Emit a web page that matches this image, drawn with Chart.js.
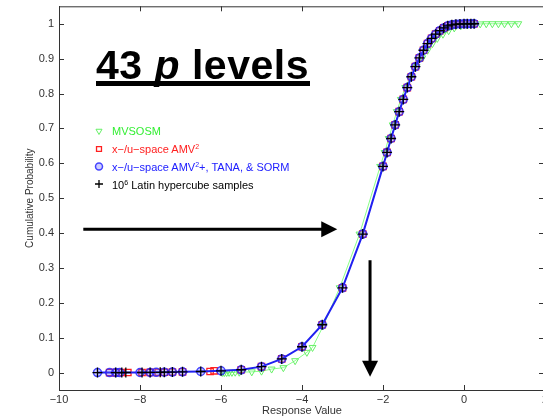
<!DOCTYPE html>
<html>
<head>
<meta charset="utf-8">
<script src="https://cdn.jsdelivr.net/npm/chart.js@4.4.1/dist/chart.umd.min.js"></script>
<style>
  html, body { margin: 0; padding: 0; overflow: hidden; background: #fff; }
  #wrap { position: relative; width: 560px; height: 420px; }
  #chart { position: absolute; left: 0; top: 0; }
  .big-title {
    position: absolute; left: 96px; top: 45px;
    font: bold 41px 'Liberation Sans', Arial, sans-serif; line-height: 41px;
    letter-spacing: 0.5px; white-space: nowrap; color: #000;
  }
  .big-title-line { position: absolute; left: 96px; top: 81px; width: 214px; height: 5px; background: #000; }
  .leg { position: absolute; left: 112px; font: 11px 'Liberation Sans', Arial, sans-serif; line-height: 12px; white-space: nowrap; }
  .leg sup { font-size: 7px; vertical-align: 4px; line-height: 0; }
</style>
</head>
<body>
<div id="wrap">
  <canvas id="chart" width="560" height="420"></canvas>
  <div class="big-title">43 <i>p</i> levels</div>
  <div class="big-title-line"></div>
  <div class="leg" style="top:125px;color:#33ee33">MVSOSM</div>
  <div class="leg" style="top:143px;color:#ff2020">x−/u−space AMV<sup>2</sup></div>
  <div class="leg" style="top:160.5px;color:#2020ff">x−/u−space AMV<sup>2</sup>+, TANA, &amp; SORM</div>
  <div class="leg" style="top:178.5px;color:#000">10<sup>6</sup> Latin hypercube samples</div>
</div>
<script>
// Tick labels
const xTicks = [-10, -8, -6, -4, -2, 0, 2];
const yTicks = [0, 0.1, 0.2, 0.3, 0.4, 0.5, 0.6, 0.7, 0.8, 0.9, 1];

// The 43 probability levels (shared by AMV2, AMV2+/TANA/SORM and LHS)
const pLevels = [
  0.000001, 0.00001, 0.00005, 0.0001, 0.0002, 0.0004, 0.0007, 0.001, 0.0015, 0.002, 0.003, 0.005,
  0.008, 0.017, 0.039, 0.074, 0.137, 0.243, 0.397, 0.591,
  0.631, 0.671, 0.710, 0.748, 0.783, 0.817, 0.848, 0.877, 0.902, 0.924, 0.943, 0.958,
  0.970, 0.980, 0.988, 0.994, 0.997, 0.9985, 0.9993, 0.9997, 0.9999, 0.99997, 0.99999
];

// Response values at those levels
const amvPlusX = [
  -9.05, -8.75, -8.6, -8.5, -8.0, -7.75, -7.6, -7.4, -7.2, -6.95, -6.5, -6.0,
  -5.5, -5.0, -4.5, -4.0, -3.5, -3.0, -2.5, -2.0,
  -1.9, -1.8, -1.7, -1.6, -1.5, -1.4, -1.3, -1.2, -1.1, -1.0, -0.9, -0.8,
  -0.7, -0.6, -0.5, -0.4, -0.3, -0.2, -0.1, 0.0, 0.08, 0.17, 0.25
];
const amv2X = [
  -8.75, -8.6, -8.45, -8.3, -7.95, -7.75, -7.55, -7.4, -7.2, -6.95, -6.27, -6.17,
  -5.5, -5.0, -4.5, -4.0, -3.5, -3.0, -2.5, -2.0,
  -1.9, -1.8, -1.7, -1.6, -1.5, -1.4, -1.3, -1.2, -1.1, -1.0, -0.9, -0.8,
  -0.7, -0.6, -0.5, -0.4, -0.3, -0.2, -0.1, 0.0, 0.08, 0.17, 0.25
];
const lhsX = [
  -9.05, -8.6, -8.45, -8.35, -7.95, -7.75, -7.5, -7.4, -7.2, -6.95, -6.5, -6.0,
  -5.5, -5.0, -4.5, -4.0, -3.5, -3.0, -2.5, -2.0,
  -1.9, -1.8, -1.7, -1.6, -1.5, -1.4, -1.3, -1.2, -1.1, -1.0, -0.9, -0.8,
  -0.7, -0.6, -0.5, -0.4, -0.3, -0.2, -0.1, 0.0, 0.08, 0.17, 0.25
];

// MVSOSM curve
const mvsosmX = [
  -5.97, -5.92, -5.86, -5.8, -5.73, -5.65, -5.55, -5.24, -5.0, -4.75, -4.46, -4.17,
  -3.88, -3.74, -3.47, -3.07, -2.58, -2.07,
  -1.96, -1.86, -1.76, -1.66, -1.56, -1.45, -1.32, -1.17, -1.03, -0.9, -0.78, -0.66,
  -0.52, -0.38, -0.24, -0.08, 0.08, 0.25, 0.4, 0.55, 0.7, 0.85, 1.0, 1.17, 1.34
];
const mvsosmP = [
  0, 0, 0, 0.0005, 0.0005, 0.001, 0.001, 0.002, 0.004, 0.01, 0.014, 0.034,
  0.058, 0.072, 0.135, 0.243, 0.397, 0.591,
  0.631, 0.671, 0.710, 0.748, 0.783, 0.817, 0.848, 0.877, 0.902, 0.924, 0.943, 0.958,
  0.970, 0.980, 0.988, 0.994, 0.997, 0.999, 0.9995, 1, 1, 1, 1, 1, 1
];

// annotation arrows, in data units
const hArrow = { x0: -9.4, x1: -3.13, y: 0.411 };
const vArrow = { x: -2.32, y0: 0.322, y1: -0.012 };

const FONT = "'Liberation Sans', Arial, sans-serif";

function pts(xs, ps) {
  return xs.map((x, i) => ({ x: x, y: ps[i] }));
}

const styles = {
  mvsosm: { pointStyle: 'triangle', pointRotation: 180, pointRadius: 4, pointBorderWidth: 1, pointBorderColor: '#66f066', pointBackgroundColor: 'rgba(0,0,0,0)' },
  amv2: { pointStyle: 'rect', pointRadius: 4.5, pointBorderWidth: 1.3, pointBorderColor: '#ff2020', pointBackgroundColor: 'rgba(0,0,0,0)' },
  amvPlus: { pointStyle: 'circle', pointRadius: 4, pointBorderWidth: 1.5, pointBorderColor: 'rgba(40,40,255,0.85)', pointBackgroundColor: 'rgba(90,90,255,0.3)' },
  lhs: { pointStyle: 'cross', pointRadius: 5, pointBorderWidth: 1.3, pointBorderColor: '#000', pointBackgroundColor: '#000' }
};

// frame, inward ticks, arrows and legend markers
const extras = {
  id: 'extras',
  afterDraw(chart) {
    const ctx = chart.ctx;
    const a = chart.chartArea;
    const xs = chart.scales.x, ys = chart.scales.y;
    ctx.save();
    ctx.strokeStyle = '#333';
    ctx.lineWidth = 1;
    ctx.beginPath();
    ctx.moveTo(a.left, a.top + 0.5); ctx.lineTo(a.right, a.top + 0.5);
    ctx.moveTo(a.right - 0.5, a.top); ctx.lineTo(a.right - 0.5, a.bottom);
    xTicks.forEach(v => {
      const px = Math.round(xs.getPixelForValue(v)) + 0.5;
      ctx.moveTo(px, a.bottom); ctx.lineTo(px, a.bottom - 5);
      ctx.moveTo(px, a.top); ctx.lineTo(px, a.top + 5);
    });
    yTicks.forEach(v => {
      const py = Math.round(ys.getPixelForValue(v)) + 0.5;
      ctx.moveTo(a.left, py); ctx.lineTo(a.left + 5, py);
      ctx.moveTo(a.right, py); ctx.lineTo(a.right - 6, py);
    });
    ctx.stroke();

    // arrows
    ctx.strokeStyle = '#000';
    ctx.fillStyle = '#000';
    ctx.lineWidth = 3;
    const hx0 = xs.getPixelForValue(hArrow.x0), hx1 = xs.getPixelForValue(hArrow.x1);
    const hy = ys.getPixelForValue(hArrow.y);
    ctx.beginPath();
    ctx.moveTo(hx0, hy); ctx.lineTo(hx1 - 14, hy);
    ctx.stroke();
    ctx.beginPath();
    ctx.moveTo(hx1, hy); ctx.lineTo(hx1 - 16, hy - 8); ctx.lineTo(hx1 - 16, hy + 8); ctx.closePath();
    ctx.fill();
    const vx = xs.getPixelForValue(vArrow.x);
    const vy0 = ys.getPixelForValue(vArrow.y0), vy1 = ys.getPixelForValue(vArrow.y1);
    ctx.beginPath();
    ctx.moveTo(vx, vy0); ctx.lineTo(vx, vy1 - 14);
    ctx.stroke();
    ctx.beginPath();
    ctx.moveTo(vx, vy1); ctx.lineTo(vx - 8, vy1 - 16); ctx.lineTo(vx + 8, vy1 - 16); ctx.closePath();
    ctx.fill();

    // legend markers
    const rows = [['mvsosm', 131], ['amv2', 149], ['amvPlus', 166.5], ['lhs', 184]];
    rows.forEach(([key, y]) => {
      const s = styles[key];
      ctx.strokeStyle = s.pointBorderColor;
      ctx.fillStyle = s.pointBackgroundColor;
      ctx.lineWidth = s.pointBorderWidth;
      const r = key === 'lhs' ? 4 : 3.5;
      Chart.helpers.drawPoint(ctx, { pointStyle: s.pointStyle, radius: r, rotation: s.pointRotation || 0, borderWidth: s.pointBorderWidth }, 99, y);
    });
    ctx.restore();
  }
};

new Chart(document.getElementById('chart'), {
  type: 'scatter',
  data: {
    datasets: [
      Object.assign({ label: '10^6 Latin hypercube samples', data: pts(lhsX, pLevels), showLine: false, order: 0 }, styles.lhs),
      Object.assign({ label: 'x-/u-space AMV2+, TANA, & SORM', data: pts(amvPlusX, pLevels), showLine: true, borderColor: '#2020f0', borderWidth: 2, order: 1 }, styles.amvPlus),
      Object.assign({ label: 'x-/u-space AMV2', data: pts(amv2X, pLevels), showLine: false, order: 2 }, styles.amv2),
      Object.assign({ label: 'MVSOSM', data: pts(mvsosmX, mvsosmP), showLine: true, borderColor: '#88ff88', borderWidth: 1, order: 3 }, styles.mvsosm)
    ]
  },
  options: {
    responsive: false,
    animation: false,
    layout: { padding: { top: 6, right: 15, left: 0, bottom: 0 } },
    plugins: { legend: { display: false }, tooltip: { enabled: false } },
    scales: {
      x: {
        type: 'linear', min: -10, max: 2,
        afterBuildTicks: s => { s.ticks = xTicks.map(v => ({ value: v })); },
        afterFit: s => { s.height = 30; s.paddingLeft = 0; s.paddingRight = 0; },
        grid: { display: false, drawTicks: false },
        border: { color: '#333', width: 1 },
        ticks: { color: '#333', padding: 3, maxRotation: 0, autoSkip: false, font: { family: FONT, size: 11 },
                 callback: v => String(v).replace('-', '−') },
        title: { display: true, text: 'Response Value', color: '#333', font: { family: FONT, size: 11 }, padding: { top: 0, bottom: 2 } }
      },
      y: {
        type: 'linear', min: -0.05, max: 1.05,
        afterBuildTicks: s => { s.ticks = yTicks.map(v => ({ value: v })); },
        afterFit: s => { s.width = 59; s.paddingTop = 0; s.paddingBottom = 0; },
        grid: { display: false, drawTicks: false },
        border: { color: '#333', width: 1 },
        ticks: { color: '#333', padding: 5, autoSkip: false, font: { family: FONT, size: 11 },
                 callback: v => String(v) },
        title: { display: true, text: 'Cumulative Probability', color: '#333', font: { family: FONT, size: 10 }, padding: { top: 24, bottom: 0 } }
      }
    }
  },
  plugins: [extras]
});
</script>
</body>
</html>
